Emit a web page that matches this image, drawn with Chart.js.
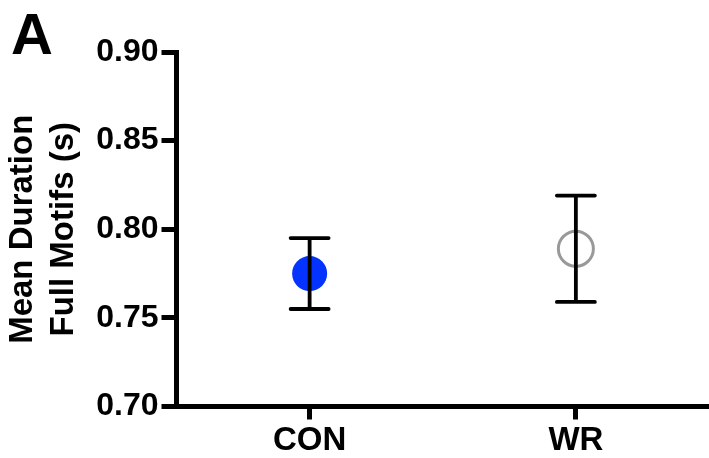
<!DOCTYPE html>
<html><head><meta charset="utf-8">
<script src="https://cdn.jsdelivr.net/npm/chart.js@4"></script>
<style>html,body{margin:0;padding:0;background:#fff}#wrap{width:709px;height:458px;position:relative}</style>
</head><body><div id="wrap"><canvas id="c"></canvas></div>
<script>
const categories = ['CON', 'WR'];
const means = [0.775, 0.789];
const errors = [0.020, 0.030];
const yTicks = [0.70, 0.75, 0.80, 0.85, 0.90];
const yTitle = ['Mean Duration', 'Full Motifs (s)'];
const panelLabel = 'A';

const FONT = "'Liberation Sans', Arial, Helvetica, sans-serif";

const errorBars = {
  id: 'errorBars',
  afterDatasetsDraw(chart) {
    const { ctx, scales: { x, y } } = chart;
    ctx.save();
    ctx.strokeStyle = '#000';
    ctx.lineWidth = 3.8;
    ctx.lineCap = 'round';
    means.forEach((m, i) => {
      const px = x.getPixelForValue(i);
      const top = y.getPixelForValue(m + errors[i]);
      const bot = y.getPixelForValue(m - errors[i]);
      ctx.beginPath();
      ctx.moveTo(px, top); ctx.lineTo(px, bot);
      ctx.moveTo(px - 19, top); ctx.lineTo(px + 19, top);
      ctx.moveTo(px - 19, bot); ctx.lineTo(px + 19, bot);
      ctx.stroke();
    });
    ctx.restore();
  }
};

const panel = {
  id: 'panel',
  afterDraw(chart) {
    const ctx = chart.ctx;
    ctx.save();
    ctx.fillStyle = '#000';
    ctx.font = "bold 58px " + FONT;
    ctx.textAlign = 'left';
    ctx.textBaseline = 'alphabetic';
    ctx.fillText(panelLabel, 11, 54);
    ctx.restore();
  }
};

new Chart(document.getElementById('c'), {
  type: 'line',
  data: {
    labels: categories,
    datasets: [{
      data: means,
      showLine: false,
      pointRadius: [17.5, 17.5],
      pointHoverRadius: [17.5, 17.5],
      pointBackgroundColor: ['#0433ff', 'rgba(255,255,255,0)'],
      pointBorderColor: ['#0433ff', '#999999'],
      pointBorderWidth: [0, 3],
      clip: false
    }]
  },
  options: {
    responsive: true,
    maintainAspectRatio: false,
    animation: false,
    events: [],
    layout: { autoPadding: false, padding: { top: 52, left: 0, right: 0, bottom: 0 } },
    plugins: { legend: { display: false }, tooltip: { enabled: false } },
    scales: {
      x: {
        type: 'category',
        offset: true,
        afterFit(s) { s.height = 51.5; s.paddingLeft = 0; s.paddingRight = 0; },
        border: { display: true, color: '#000', width: 5 },
        grid: { display: true, drawOnChartArea: false, drawTicks: true, tickLength: 13, tickWidth: 5, tickColor: '#000', offset: false },
        ticks: { color: '#000', padding: 2, font: { family: FONT, size: 33, weight: 'bold' }, maxRotation: 0 }
      },
      y: {
        min: 0.70, max: 0.90,
        afterBuildTicks(s) { s.ticks = yTicks.map(v => ({ value: v })); },
        afterFit(s) { s.width = 176.5; s.paddingTop = 0; s.paddingBottom = 0; },
        border: { display: true, color: '#000', width: 5 },
        grid: { display: true, drawOnChartArea: false, drawTicks: true, tickLength: 15, tickWidth: 5, tickColor: '#000' },
        ticks: { color: '#000', padding: 3, font: { family: FONT, size: 32, weight: 'bold' }, callback: v => Number(v).toFixed(2) },
        title: { display: true, text: yTitle, color: '#000', padding: { top: 2, bottom: 0 }, font: { family: FONT, size: 33, weight: 'bold', lineHeight: 1.25 } }
      }
    }
  },
  plugins: [errorBars, panel]
});
</script>
</body></html>
